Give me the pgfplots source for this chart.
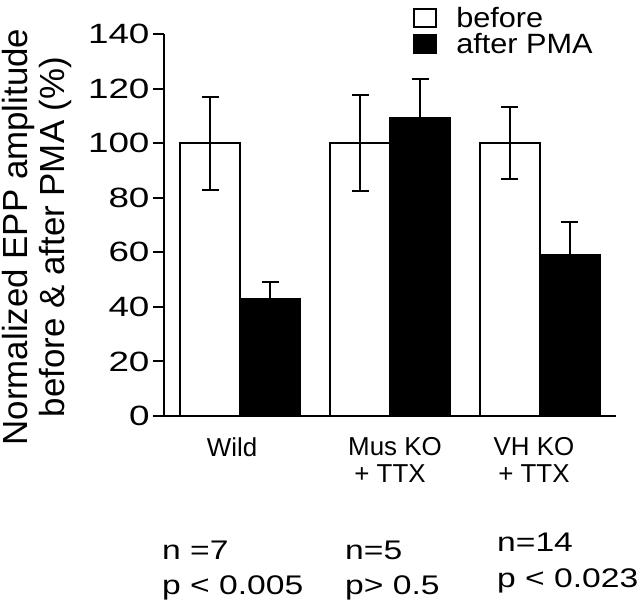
\documentclass[border=0pt]{standalone}
\usepackage{fontspec}
\usepackage{pgfplots}
\pgfplotsset{compat=1.18}
\setmainfont{Liberation Sans}
\newfontfamily\helv{Liberation Sans}
\newfontfamily\helvwide[FakeStretch=1.25]{Liberation Sans}
\newfontfamily\helvtick[FakeStretch=1.32]{Liberation Sans}
\newfontfamily\helvleg[FakeStretch=1.1]{Liberation Sans}
\begin{document}
\begin{tikzpicture}[x=1bp,y=1bp]
\path[use as bounding box] (0,0) rectangle (640,603);
\begin{axis}[
  at={(164bp,187bp)}, anchor=south west,
  scale only axis, width=452bp, height=382bp,
  xmin=-0.507, xmax=2.507, ymin=0, ymax=140,
  ybar, bar width=0.4,
  axis x line*=bottom, axis y line*=left,
  axis line style={line width=2bp, -},
  ytick={0,20,...,140},
  xtick={0,1,2},
  xticklabels={Wild\hspace*{16bp}, \hspace*{10bp}Mus KO\\+ TTX, VH KO\hspace*{12bp}\\+ TTX\hspace*{12bp}},
  xticklabel style={align=center, font=\fontsize{26}{27}\helv, yshift=-7bp},
  yticklabel style={font=\fontsize{28}{30}\helvtick},
  /pgf/number format/assume math mode=true,
  x tick style={draw=none},
  y tick style={line width=2bp, black},
  tick align=outside, major tick length=11bp,
  clip=false,
  legend style={at={(0.551,1.075)}, anchor=north west, draw=none, fill=none,
    font=\fontsize{28}{30}\helvleg, inner sep=0pt, row sep=0bp},
  legend cell align=left,
]
\addplot[bar shift=-0.2, draw=black, fill=white, line width=2bp,
  legend image code/.code={\draw[black, fill=white, line width=2bp] (0bp,-9bp) rectangle (22bp,9bp); \path[draw=none,fill=none] (0bp,0bp) -- (40bp,0bp);},
  error bars/.cd, y dir=both, y explicit, error mark=|,
  error bar style={line width=2bp, black},
  error mark options={line width=2bp, black, mark size=8.5bp}]
  coordinates {(0,100) +- (0,17) (1,100) +- (0,17.5) (2,100) +- (0,13.2)};
\addlegendentry{before}
\addplot[bar shift=0.2, draw=black, fill=black, line width=2bp,
  legend image code/.code={\draw[black, fill=black, line width=2bp] (0bp,-9bp) rectangle (22bp,9bp); \path[draw=none,fill=none] (0bp,0bp) -- (40bp,0bp);},
  error bars/.cd, y dir=both, y explicit, error mark=|,
  error bar style={line width=2bp, black},
  error mark options={line width=2bp, black, mark size=8.5bp}]
  coordinates {(0,42.8) +- (0,6.3) (1,109.2) +- (0,14.2) (2,59) +- (0,12)};
\addlegendentry{after PMA}
\end{axis}
\node[rotate=90, align=center, anchor=north, inner sep=0pt, font=\fontsize{35}{37}\helv] at (2,366) {Normalized EPP amplitude\\before \& after PMA (\%)};
\begin{scope}[every node/.style={anchor=base west, inner sep=0pt, font=\fontsize{27}{30}\helvwide}]
\node at (162,43) {n =7};
\node at (162,8) {p < 0.005};
\node at (345,43) {n=5};
\node at (345,8) {p> 0.5};
\node at (497,51) {n=14};
\node at (497,15) {p < 0.023};
\end{scope}
\end{tikzpicture}
\end{document}
